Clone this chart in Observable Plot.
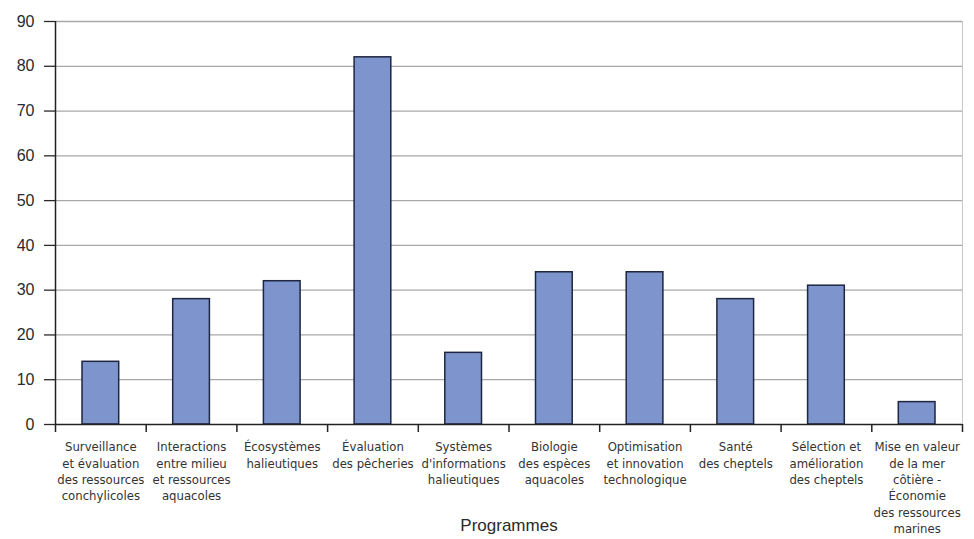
<!DOCTYPE html>
<html>
<head>
<meta charset="utf-8">
<script src="https://cdn.jsdelivr.net/npm/d3@7"></script>
<script src="https://cdn.jsdelivr.net/npm/@observablehq/plot@0.6"></script>
<style>
  html, body { margin: 0; padding: 0; background: #fff; }
  #chart svg { display: block; }
</style>
</head>
<body>
<div id="chart"></div>
<script>
const categories = [
  "Surveillance\net évaluation\ndes ressources\nconchylicoles",
  "Interactions\nentre milieu\net ressources\naquacoles",
  "Écosystèmes\nhalieutiques",
  "Évaluation\ndes pêcheries",
  "Systèmes\nd'informations\nhalieutiques",
  "Biologie\ndes espèces\naquacoles",
  "Optimisation\net innovation\ntechnologique",
  "Santé\ndes cheptels",
  "Sélection et\namélioration\ndes cheptels",
  "Mise en valeur\nde la mer\ncôtière -\nÉconomie\ndes ressources\nmarines"
];
const values = [14, 28, 32, 82, 16, 34, 34, 28, 31, 5];
const yTicks = [0, 10, 20, 30, 40, 50, 60, 70, 80, 90];
const xLabel = "Programmes";

const data = categories.map((c, i) => ({label: c, value: values[i], i}));
const font = "'Liberation Sans Narrow', 'DejaVu Sans Condensed', 'Liberation Sans', sans-serif";

const chart = Plot.plot({
  width: 974,
  height: 539,
  marginLeft: 55,
  marginRight: 12,
  marginTop: 21,
  marginBottom: 115,
  style: {fontFamily: "'Liberation Sans', Arial, sans-serif", background: "#fff"},
  x: {type: "linear", domain: [0, categories.length], axis: null},
  y: {domain: [0, 90], axis: null},
  marks: [
    Plot.ruleY(yTicks.filter(d => d > 0), {stroke: "#a8a8a8", strokeWidth: 1.3}),
    Plot.ruleX([categories.length], {stroke: "#c8c8c8", strokeWidth: 1}),
    Plot.rectY(data, {
      x1: "i", x2: d => d.i + 1, y: "value",
      insetLeft: 27, insetRight: 27,
      fill: "#7d94cc", stroke: "#1e2640", strokeWidth: 1.5
    }),
    Plot.axisY({ticks: yTicks, label: null, tickSize: 11, tickPadding: 10, fontSize: 16, color: "#2a2a2a", strokeWidth: 1.3}),
    Plot.axisX({ticks: d3.range(0, categories.length + 1), label: null, tickSize: 8, tickFormat: () => "", strokeWidth: 1.5, color: "#222"}),
    Plot.ruleX([0], {stroke: "#222", strokeWidth: 1.5}),
    Plot.ruleY([0], {stroke: "#222", strokeWidth: 1.5}),
    Plot.text(data, {
      x: d => d.i + 0.5, y: 0, text: "label",
      lineAnchor: "top", dy: 15, fontSize: 13, lineHeight: 1.26,
      fill: "#333", fontFamily: font
    }),
    Plot.text([xLabel], {
      frameAnchor: "bottom", dy: 106, fontSize: 17, fill: "#2a2a2a"
    })
  ]
});
document.getElementById("chart").append(chart);
</script>
</body>
</html>
